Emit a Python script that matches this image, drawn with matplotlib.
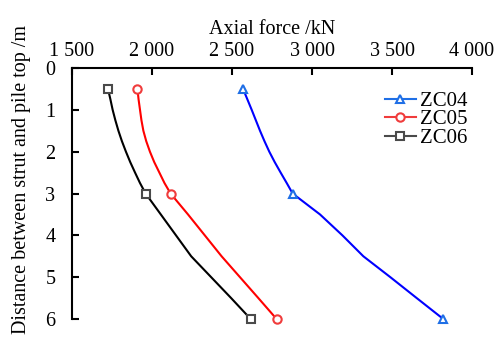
import matplotlib
matplotlib.use("Agg")
import matplotlib.pyplot as plt
from matplotlib.ticker import FuncFormatter

plt.rcParams['font.family'] = ['Liberation Serif', 'DejaVu Serif']

depth = [0.5, 0.75, 1.0, 1.25, 1.5, 1.75, 2.0, 2.25, 2.5, 2.75, 3.0,
         3.5, 4.0, 4.5, 5.0, 5.5, 6.0]
zc04 = [2569, 2596, 2623, 2649, 2675, 2703, 2733, 2767, 2804, 2842, 2879,
        3050, 3190, 3321, 3490, 3655, 3821]
zc05 = [1909, 1916, 1925, 1934, 1946, 1964, 1987, 2014, 2046, 2078, 2116,
        2225, 2330, 2435, 2550, 2665, 2779]
zc06 = [1725, 1740, 1754, 1771, 1790, 1812, 1837, 1864, 1894, 1925, 1960,
        2055, 2150, 2245, 2370, 2495, 2617]
marker_idx = [0, 10, 16]
x_ticks = [1500, 2000, 2500, 3000, 3500, 4000]
y_ticks = [0, 1, 2, 3, 4, 5, 6]

fig = plt.figure(figsize=(5.0, 3.38), dpi=100)
ax = fig.add_axes([0.144, 0.056, 0.8, 0.743])

series = [
    ("ZC04", zc04, "#0000ff", "#1f6fe6", "^"),
    ("ZC05", zc05, "#ff0000", "#f03c3c", "o"),
    ("ZC06", zc06, "#000000", "#4a4a4a", "s"),
]
for name, vals, lc, mc, m in series:
    ax.plot(vals, depth, color=lc, lw=1.5, zorder=2, clip_on=False)
    ax.plot([vals[i] for i in marker_idx], [depth[i] for i in marker_idx],
            ls='none', marker=m, ms=6, mfc='white', mec=mc, mew=1.5, zorder=3,
            clip_on=False)
    ax.plot([], [], color=mc, lw=1.5, marker=m, ms=6, mfc='white', mec=mc,
            mew=1.5, label=name)

ax.set_xlim(1500, 4000)
ax.set_ylim(6, 0)
ax.set_xticks(x_ticks)
ax.set_yticks(y_ticks)
ax.xaxis.set_major_formatter(FuncFormatter(
    lambda v, p: f"{int(v):,}".replace(",", " ")))
ax.xaxis.tick_top()
ax.xaxis.set_label_position('top')
ax.tick_params(axis='both', direction='in', length=5, width=1.5,
               labelsize=14.5)
ax.tick_params(axis='x', pad=5)
ax.tick_params(axis='y', pad=12)
for s in ['right', 'bottom']:
    ax.spines[s].set_visible(False)
for s in ['top', 'left']:
    ax.spines[s].set_linewidth(1.5)

ax.set_xlabel("Axial force /kN", fontsize=14.5, labelpad=6)
fig.text(22 / 500, 1 - 179 / 338, "Distance between strut and pile top /m",
         rotation=90, ha='center', va='center', fontsize=14.5)

ax.legend(loc='upper right', bbox_to_anchor=(1.01, 0.94), frameon=False,
          fontsize=15, handlelength=1.5, handletextpad=0.2, labelspacing=-0.05,
          borderaxespad=0.0)

fig.savefig("out.png", dpi=100)
